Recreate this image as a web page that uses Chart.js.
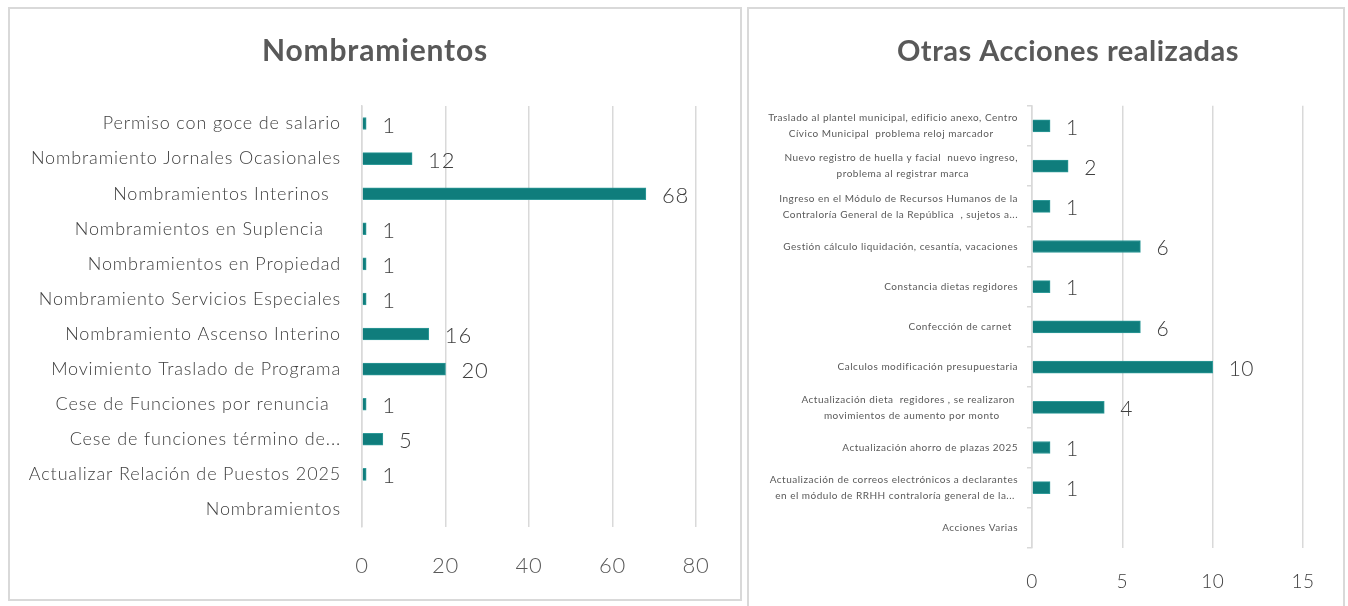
<!DOCTYPE html>
<html>
<head>
<meta charset="utf-8">
<script src="https://cdn.jsdelivr.net/npm/chart.js@4/dist/chart.umd.min.js"></script>
<style>
  html, body { margin: 0; padding: 0; background: #ffffff; overflow: hidden; }
  body { width: 1348px; height: 606px; position: relative; }
  .panel { position: absolute; border: 2px solid #d9d9d9; box-sizing: border-box; background: #fff; }
  #p1 { left: 8px; top: 7px; width: 734px; height: 594px; }
  #p2 { left: 747px; top: 7px; width: 598px; height: 612px; }
  canvas { display: block; }
</style>
</head>
<body>
<div class="panel" id="p1"><canvas id="c1" width="730" height="590"></canvas></div>
<div class="panel" id="p2"><canvas id="c2" width="594" height="608"></canvas></div>
<script>
// ---------- Data: Nombramientos ----------
const nombTitle = "Nombramientos";
const nombCategories = [
  "Permiso con goce de salario",
  "Nombramiento Jornales Ocasionales",
  "Nombramientos Interinos  ",
  "Nombramientos en Suplencia   ",
  "Nombramientos en Propiedad",
  "Nombramiento Servicios Especiales",
  "Nombramiento Ascenso Interino",
  "Movimiento Traslado de Programa",
  "Cese de Funciones por renuncia  ",
  "Cese de funciones término de...",
  "Actualizar Relación de Puestos 2025",
  "Nombramientos"
];
const nombValues = [1, 12, 68, 1, 1, 1, 16, 20, 1, 5, 1, null];
const nombTicks = [0, 20, 40, 60, 80];

// ---------- Data: Otras Acciones realizadas ----------
const accTitle = "Otras Acciones realizadas";
const accCategories = [
  ["Traslado al plantel municipal, edificio anexo, Centro", "Cívico Municipal  problema reloj marcador        "],
  ["Nuevo registro de huella y facial  nuevo ingreso,", "problema al registrar marca                "],
  ["Ingreso en el Módulo de Recursos Humanos de la", "Contraloría General de la República  , sujetos a..."],
  "Gestión cálculo liquidación, cesantía, vacaciones",
  "Constancia dietas regidores",
  "Confección de carnet  ",
  "Calculos modificación presupuestaria",
  ["Actualización dieta  regidores , se realizaron ", "movimientos de aumento por monto      "],
  "Actualización ahorro de plazas 2025",
  ["Actualización de correos electrónicos a declarantes", "en el módulo de RRHH contraloría general de la... "],
  "Acciones Varias"
];
const accValues = [1, 2, 1, 6, 1, 6, 10, 4, 1, 1, null];
const accTicks = [0, 5, 10, 15];

const TEAL = "#0f7d7c";
const FONT = "Lato, 'Open Sans', sans-serif";

const spacingPlugin = {
  id: "spacing",
  beforeUpdate(chart, args, opts) { chart.ctx.letterSpacing = opts.px + "px"; },
  beforeDraw(chart, args, opts) { chart.ctx.letterSpacing = opts.px + "px"; }
};

// centre the title over a chosen horizontal span of the canvas
const titleSpanPlugin = {
  id: "titleSpan",
  afterLayout(chart, args, opts) {
    const t = chart.titleBlock;
    if (!t) return;
    t.left = opts.left;
    t.right = opts.right;
    t.width = opts.right - opts.left;
  }
};

const barValuesPlugin = {
  id: "barValues",
  afterDatasetsDraw(chart, args, opts) {
    const ctx = chart.ctx;
    const meta = chart.getDatasetMeta(0);
    const vals = chart.data.datasets[0].data;
    ctx.save();
    ctx.font = opts.weight + " " + opts.size + "px " + FONT;
    ctx.fillStyle = opts.color;
    ctx.textAlign = "left";
    ctx.textBaseline = "middle";
    meta.data.forEach((bar, i) => {
      const v = vals[i];
      if (v === null || v === undefined) return;
      ctx.fillText(String(v), bar.x + opts.offset, bar.y + opts.dy);
    });
    ctx.restore();
  }
};

function makeChart(id, title, cats, vals, ticks, cfg) {
  return new Chart(document.getElementById(id), {
    type: "bar",
    data: {
      labels: cats,
      datasets: [{
        data: vals,
        backgroundColor: TEAL,
        borderColor: "#2f9a99",
        borderWidth: 1,
        barThickness: cfg.barThickness
      }]
    },
    plugins: [spacingPlugin, titleSpanPlugin, barValuesPlugin],
    options: {
      indexAxis: "y",
      responsive: false,
      animation: false,
      devicePixelRatio: 1,
      layout: { padding: { left: 0, right: cfg.padRight, top: 0, bottom: 0 } },
      plugins: {
        legend: { display: false },
        tooltip: { enabled: false },
        spacing: { px: cfg.letterSpacing },
        titleSpan: { left: cfg.titleLeft, right: cfg.titleRight },
        title: {
          display: true,
          text: title,
          color: "#595959",
          font: { family: FONT, size: cfg.titleSize, weight: "bold" },
          padding: { top: cfg.titleTop, bottom: cfg.titleBottom }
        },
        barValues: { size: cfg.valSize, weight: 300, color: "#404040", offset: cfg.valOffset, dy: 2 }
      },
      scales: {
        x: {
          min: ticks[0],
          max: ticks[ticks.length - 1],
          afterBuildTicks(scale) { scale.ticks = ticks.map(v => ({ value: v })); },
          afterFit(scale) { scale.height = cfg.xHeight; },
          border: { display: false },
          grid: { color: "#d9d9d9", lineWidth: 1.5, drawTicks: false },
          ticks: {
            color: cfg.xTickColor,
            padding: cfg.xTickPad,
            font: { family: FONT, size: cfg.xTickSize, weight: 300 }
          }
        },
        y: {
          afterFit(scale) { scale.width = cfg.yWidth; },
          border: { display: true, color: "#d9d9d9", width: 1.5 },
          grid: {
            display: cfg.yTicksMarks,
            drawOnChartArea: false,
            drawTicks: cfg.yTicksMarks,
            tickLength: 5,
            color: "#d9d9d9",
            lineWidth: 1.5,
            offset: true
          },
          ticks: {
            color: cfg.yTickColor,
            padding: cfg.yTickPad,
            autoSkip: false,
            font: { family: FONT, size: cfg.yTickSize, weight: cfg.yTickWeight, lineHeight: cfg.yLineHeight }
          }
        }
      }
    }
  });
}

makeChart("c1", nombTitle, nombCategories, nombValues, nombTicks, {
  barThickness: 12, padRight: 44, titleLeft: 0, titleRight: 730,
  titleSize: 30, titleTop: 24, titleBottom: 37, letterSpacing: 0.85,
  valSize: 22, valOffset: 16, xHeight: 72, xTickPad: 26, xTickSize: 22, xTickColor: "#595959",
  yWidth: 352, yTickPad: 21, yTickSize: 18, yTickWeight: 300, yTickColor: "#404040", yTicksMarks: false, yLineHeight: 1.2
});

makeChart("c2", accTitle, accCategories, accValues, accTicks, {
  barThickness: 12, padRight: 40, titleLeft: 0, titleRight: 638,
  titleSize: 29, titleTop: 25, titleBottom: 37, letterSpacing: 0.5,
  valSize: 21, valOffset: 16, xHeight: 69, xTickPad: 22, xTickSize: 19, xTickColor: "#404040",
  yWidth: 283, yTickPad: 9, yTickSize: 10, yTickWeight: "normal", yTickColor: "#595959", yTicksMarks: true, yLineHeight: 1.6
});
</script>
</body>
</html>
